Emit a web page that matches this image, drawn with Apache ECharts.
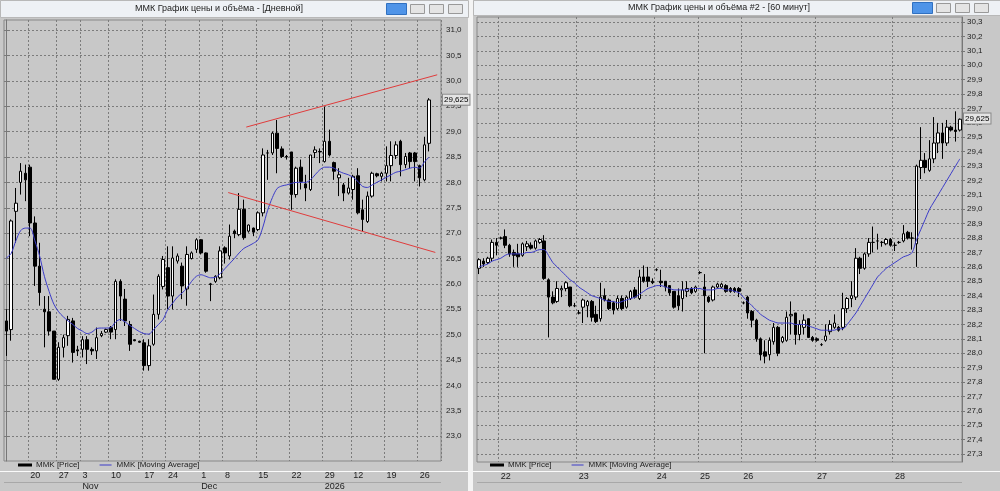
<!DOCTYPE html>
<html><head><meta charset="utf-8">
<script src="https://cdn.jsdelivr.net/npm/echarts@6/dist/echarts.min.js"></script>
<style>html,body{margin:0;padding:0;background:#f0f0f0}#c{width:1000px;height:491px}</style>
</head><body><div id="c"></div>
<script>
// ---- Left panel (daily) ----
const leftCandles = [ // [open, close, low, high]
[25.27,25.07,24.58,25.50],[25.10,27.24,24.88,27.27],[27.43,27.59,26.81,27.89],[28.00,28.22,27.76,28.38],[28.18,28.05,27.63,28.35],
[28.30,27.20,26.94,28.35],[27.20,26.35,25.96,27.33],[26.35,25.83,25.57,26.81],[25.50,25.45,24.75,25.76],[25.45,25.07,24.98,25.76],
[25.07,24.12,24.12,25.07],[24.12,24.75,24.09,24.85],[24.75,24.94,24.55,25.00],[24.98,25.30,24.78,25.37],[25.27,24.65,24.45,25.33],
[24.70,24.68,24.58,24.78],[24.71,24.90,24.55,24.97],[24.90,24.71,24.42,24.97],[24.71,24.68,24.60,24.75],[24.68,24.94,24.52,25.14],
[24.98,25.02,24.95,25.07],[25.05,25.10,25.03,25.12],[25.14,25.05,24.91,25.17],[25.10,26.05,24.91,26.09],[26.05,25.76,25.27,26.09],
[25.70,25.27,25.17,25.90],[25.20,24.81,24.68,25.27],[24.90,24.88,24.87,24.91],[24.87,24.85,24.84,24.88],[24.84,24.39,24.29,24.91],
[24.39,24.78,24.29,24.91],[24.81,25.40,24.78,25.79],[25.40,26.15,25.30,26.19],[25.95,26.48,25.89,26.55],[26.32,25.76,25.50,26.74],
[25.76,26.51,25.50,26.74],[26.45,26.55,26.40,26.60],[26.35,25.96,25.70,26.42],[25.90,26.58,25.57,26.74],[26.50,26.61,26.48,26.64],
[26.68,26.87,26.61,26.90],[26.87,26.61,26.58,26.88],[26.61,26.25,26.22,26.62],[26.00,25.99,25.66,26.02],[26.05,26.15,26.02,26.17],
[26.12,26.65,26.09,26.74],[26.71,26.61,26.40,26.74],[26.55,26.94,26.48,27.17],[27.04,26.99,26.90,27.07],[26.97,27.47,26.94,27.79],
[27.47,26.91,26.87,27.66],[27.04,27.16,27.01,27.17],[27.10,27.02,26.94,27.11],[27.07,27.40,27.04,27.43],[27.40,28.54,27.33,28.67],
[28.58,28.58,28.05,28.64],[28.58,28.97,28.54,29.00],[28.97,28.67,28.18,29.23],[28.66,28.51,28.48,28.71],[28.51,28.50,28.45,28.54],
[28.60,27.76,27.46,28.60],[27.76,28.28,27.70,28.31],[28.30,28.02,27.86,28.45],[27.97,27.89,27.63,28.15],[27.86,28.54,27.83,28.54],
[28.59,28.64,28.48,28.71],[28.61,28.60,28.38,28.67],[28.41,28.81,28.39,29.49],[28.81,28.54,28.51,29.04],[28.39,28.22,28.05,28.41],
[28.09,28.15,27.73,28.28],[27.95,27.79,27.63,27.99],[27.79,27.89,27.76,28.09],[27.86,28.12,27.66,28.15],[28.13,27.40,27.37,28.28],
[27.46,27.27,27.04,27.66],[27.23,27.73,27.20,27.82],[27.73,28.18,27.70,28.21],[28.17,28.13,28.10,28.19],[28.12,28.18,28.02,28.21],
[28.18,28.33,28.02,28.71],[28.33,28.53,28.02,28.81],[28.53,28.74,28.46,28.81],[28.81,28.35,28.12,28.84],[28.35,28.51,28.28,28.58],
[28.58,28.41,28.28,28.60],[28.58,28.41,28.02,28.60],[28.33,28.09,27.92,28.35],[28.05,28.74,28.02,28.90],[28.77,29.625,28.61,29.66]];
const leftMA = [26.51,26.60,26.85,27.05,27.10,27.10,26.85,26.55,26.15,25.85,
25.60,25.45,25.35,25.27,25.20,25.12,25.07,25.02,25.05,25.12,
25.13,25.13,25.14,25.25,25.30,25.25,25.18,25.12,25.06,25.02,
25.01,25.10,25.20,25.30,25.50,25.62,25.74,25.82,25.92,26.05,
26.15,26.18,26.15,26.12,26.13,26.20,26.30,26.40,26.50,26.61,
26.70,26.75,26.80,26.87,27.12,27.45,27.70,27.88,27.93,27.95,
27.98,28.00,28.00,28.00,28.05,28.15,28.25,28.30,28.30,28.28,
28.22,28.18,28.15,28.10,28.02,27.92,27.90,27.95,28.00,28.05,
28.10,28.15,28.20,28.22,28.25,28.28,28.30,28.28,28.40,28.50];
const leftSlots = 92;
const leftDayIdx = [5,11,16,22,29,34,41,46,53,60,67,73,80,87];
const leftDayLabels = ['20','27','3','10','17','24','1','8','15','22','29','12','19','26'];
const leftMonthIdx = [16,41,67];
const leftMonthLabels = ['Nov','Dec','2026'];
const leftYTicks = [23.0,23.5,24.0,24.5,25.0,25.5,26.0,26.5,27.0,27.5,28.0,28.5,29.0,29.5,30.0,30.5,31.0];
const upperTrend = [[50.5,29.09],[90.7,30.12]];
const lowerTrend = [[46.7,27.80],[90.3,26.62]];
const lastPrice = 29.625;

// ---- Right panel (60 min) ----
const rightCandles = [
[28.59,28.65,28.55,28.66],[28.64,28.62,28.60,28.66],[28.63,28.66,28.62,28.67],[28.66,28.77,28.64,28.79],[28.77,28.75,28.68,28.80],
[28.80,28.80,28.79,28.81],[28.81,28.75,28.73,28.86],[28.75,28.69,28.67,28.76],[28.70,28.68,28.60,28.72],[28.69,28.67,28.60,28.76],
[28.68,28.76,28.67,28.77],[28.74,28.76,28.71,28.78],[28.75,28.73,28.72,28.77],[28.73,28.78,28.72,28.79],[28.77,28.79,28.76,28.80],
[28.78,28.52,28.51,28.82],[28.51,28.39,28.11,28.52],[28.39,28.35,28.34,28.43],[28.36,28.45,28.35,28.50],[28.44,28.45,28.39,28.47],
[28.45,28.49,28.43,28.50],[28.46,28.33,28.32,28.46],[28.33,28.33,28.32,28.35],[28.28,28.28,28.27,28.30],[28.32,28.37,28.21,28.38],
[28.33,28.36,28.25,28.37],[28.36,28.25,28.22,28.37],[28.27,28.22,28.21,28.33],[28.24,28.39,28.22,28.49],[28.40,28.37,28.36,28.45],
[28.37,28.31,28.30,28.38],[28.35,28.30,28.27,28.36],[28.31,28.38,28.30,28.40],[28.38,28.31,28.30,28.40],[28.32,28.39,28.31,28.40],
[28.38,28.43,28.37,28.44],[28.44,28.39,28.38,28.46],[28.38,28.53,28.37,28.58],[28.53,28.50,28.49,28.61],[28.53,28.50,28.46,28.60],
[28.50,28.49,28.48,28.52],[28.58,28.58,28.57,28.59],[28.50,28.49,28.46,28.58],[28.50,28.46,28.43,28.50],[28.47,28.42,28.40,28.47],
[28.43,28.32,28.31,28.43],[28.40,28.33,28.30,28.45],[28.38,28.44,28.29,28.50],[28.43,28.45,28.39,28.50],[28.45,28.42,28.41,28.46],
[28.43,28.46,28.42,28.47],[28.56,28.56,28.55,28.57],[28.46,28.40,28.00,28.55],[28.39,28.36,28.35,28.40],[28.37,28.46,28.36,28.47],
[28.46,28.48,28.45,28.49],[28.46,28.48,28.45,28.49],[28.47,28.43,28.42,28.48],[28.45,28.43,28.42,28.46],[28.45,28.43,28.42,28.46],
[28.45,28.43,28.39,28.46],[28.35,28.35,28.34,28.36],[28.39,28.28,28.24,28.40],[28.29,28.23,28.18,28.30],[28.23,28.10,28.08,28.24],
[28.10,27.99,27.95,28.11],[28.01,27.98,27.93,28.09],[27.99,28.09,27.95,28.11],[28.08,28.18,28.06,28.21],[28.18,28.00,27.98,28.19],
[28.08,28.11,28.07,28.12],[28.09,28.25,28.08,28.29],[28.26,28.27,28.13,28.36],[28.28,28.13,28.06,28.28],[28.13,28.20,28.09,28.23],
[28.18,28.23,28.13,28.27],[28.24,28.11,28.11,28.24],[28.11,28.09,28.08,28.12],[28.10,28.09,28.08,28.11],[28.06,28.06,28.05,28.07],
[28.09,28.12,28.08,28.20],[28.15,28.20,28.13,28.23],[28.18,28.21,28.17,28.27],[28.18,28.16,28.15,28.19],[28.18,28.31,28.16,28.42],
[28.31,28.38,28.28,28.39],[28.38,28.40,28.32,28.50],[28.39,28.66,28.37,28.73],[28.66,28.59,28.55,28.67],[28.59,28.69,28.58,28.70],
[28.69,28.77,28.67,28.80],[28.77,28.77,28.70,28.88],[28.78,28.78,28.72,28.83],[28.77,28.77,28.74,28.78],[28.76,28.79,28.75,28.80],
[28.79,28.75,28.74,28.80],[28.75,28.75,28.71,28.77],[28.77,28.77,28.76,28.78],[28.78,28.83,28.77,28.89],[28.84,28.80,28.79,28.85],
[28.80,28.80,28.72,28.84],[28.76,29.30,28.60,29.31],[29.29,29.34,29.21,29.57],[29.34,29.29,29.25,29.39],[29.27,29.35,29.26,29.48],
[29.35,29.46,29.32,29.64],[29.46,29.53,29.39,29.60],[29.53,29.46,29.35,29.60],[29.46,29.57,29.44,29.62],[29.57,29.55,29.54,29.58],
[29.55,29.54,29.47,29.68],[29.55,29.625,29.54,29.63]];
const rightMA = [28.60,28.61,28.62,28.64,28.65,28.66,28.68,28.69,28.69,28.69,
28.69,28.70,28.70,28.71,28.72,28.72,
28.68,28.63,28.60,28.57,28.54,28.51,28.49,28.46,28.44,28.42,28.40,28.39,28.38,
28.37,28.36,28.36,28.35,28.36,28.37,28.38,28.39,28.41,28.43,28.45,28.46,28.47,28.47,28.46,28.45,28.44,28.44,28.44,28.44,28.45,28.45,28.45,28.44,28.44,28.44,28.45,28.45,
28.44,28.44,28.43,28.42,28.39,28.36,28.33,28.30,28.27,28.25,28.23,28.22,28.21,28.21,28.21,28.21,28.20,28.20,28.20,28.19,28.18,28.17,28.16,28.16,28.16,28.16,28.17,28.17,
28.20,28.24,28.28,28.33,28.38,28.43,28.48,28.53,28.56,28.59,28.61,28.63,28.65,28.67,28.68,28.70,28.79,28.86,28.93,29.00,29.05,29.10,29.15,29.20,29.25,29.30,29.35];
const rightSlots = 112;
const rightDayIdx = [5,23,41,51,61,78,96];
const rightDayLabels = ['22','23','24','25','26','27','28'];
const rightYTicks = [27.3,27.4,27.5,27.6,27.7,27.8,27.9,28.0,28.1,28.2,28.3,28.4,28.5,28.6,28.7,28.8,28.9,29.0,29.1,29.2,29.3,29.4,29.5,29.6,29.7,29.8,29.9,30.0,30.1,30.2,30.3];

const titles = ['ММК График цены и объёма - [Дневной]','ММК График цены и объёма #2 - [60 минут]'];
const legendNames = ['MMK [Price]','MMK [Moving Average]'];

// ---- build ----
const FONT = 'Liberation Sans';
const cats = n => Array.from({length:n},(_,i)=>String(i));
const fmt = v => v.toFixed(1).replace('.',',');
function dayAxis(grid, n, idx, labels, margin, showSplit){
  const map = {}; idx.forEach((k,j)=>map[k]=labels[j]);
  return {type:'category', gridIndex:grid, position:'bottom', data:cats(n), boundaryGap:true,
    axisLine:{show:false}, axisTick:{show:false},
    axisLabel:{interval:(i)=>map[i]!==undefined, formatter:(v)=>map[+v]||'', align:'left', margin:margin, fontSize:9, fontFamily:FONT, color:'#222'},
    splitLine:{show:showSplit, interval:(i)=>map[i]!==undefined, lineStyle:{color:'#7c7c7c', type:[2,2], width:1}}};
}
function yAx(grid, min, max, ticks){
  return {type:'value', gridIndex:grid, position:'right', min:min, max:max, scale:true,
    axisLine:{show:true, lineStyle:{color:'#777'}}, axisTick:{show:true, length:3, customValues:ticks, lineStyle:{color:'#777'}},
    axisLabel:{customValues:ticks, formatter:fmt, fontSize:8, fontFamily:FONT, color:'#222', margin:5},
    splitLine:{show:true, lineStyle:{color:'#7c7c7c', type:[2,2], width:1}}};
}
const candleStyle = {color:'#ffffff', color0:'#000000', borderColor:'#000000', borderColor0:'#000000', borderWidth:1};
const lastMark = {symbol:['none','none'], silent:true, data:[{yAxis:lastPrice}], lineStyle:{color:'rgba(0,0,0,0)', width:1, type:'solid'},
  label:{show:true, position:'end', formatter:'29,625', fontSize:8, fontFamily:FONT, color:'#000', backgroundColor:'#e4e4e4', borderColor:'#888', borderWidth:1, padding:[1,1], distance:2}};

const option = {
  animation:false, backgroundColor:'#c8c8c8',
  grid:[{left:4, right:559, top:20, bottom:29, show:true, borderColor:'#888', borderWidth:1, backgroundColor:'#c8c8c8'},
        {left:477, right:38, top:17, bottom:29, show:true, borderColor:'#888', borderWidth:1, backgroundColor:'#c8c8c8'}],
  xAxis:[
    dayAxis(0, leftSlots, leftDayIdx, leftDayLabels, 10, true),
    dayAxis(1, rightSlots, rightDayIdx, rightDayLabels, 10, true),
    {type:'value', gridIndex:0, position:'bottom', min:-0.5, max:leftSlots-0.5, show:false},
    dayAxis(0, leftSlots, leftMonthIdx, leftMonthLabels, 21, false)
  ],
  yAxis:[yAx(0, 22.51, 31.2, leftYTicks), yAx(1, 27.245, 30.335, rightYTicks), {type:'value', gridIndex:0, position:'right', min:22.51, max:31.2, show:false}],
  legend:[
    {left:18, top:461, itemWidth:12, itemHeight:1, itemGap:20, padding:0, textStyle:{fontSize:8, fontFamily:FONT, color:'#222'},
     data:[{name:legendNames[0], icon:'rect', itemStyle:{color:'#000'}},{name:legendNames[1], icon:'rect', itemStyle:{color:'#3c3cc8'}}]},
    {left:490, top:461, itemWidth:12, itemHeight:1, itemGap:20, padding:0, textStyle:{fontSize:8, fontFamily:FONT, color:'#222'},
     data:[{name:legendNames[0], icon:'rect', itemStyle:{color:'#000'}},{name:legendNames[1], icon:'rect', itemStyle:{color:'#3c3cc8'}}]}
  ],
  series:[
    {name:legendNames[0], type:'candlestick', xAxisIndex:0, yAxisIndex:0, data:leftCandles, barWidth:3, itemStyle:candleStyle},
    {name:legendNames[1], type:'line', xAxisIndex:0, yAxisIndex:0, data:leftMA, symbol:'none', smooth:0.3, lineStyle:{color:'#3c3cc8', width:1}, markLine:lastMark},
    {name:'upper', type:'line', xAxisIndex:2, yAxisIndex:2, data:upperTrend, symbol:'none', lineStyle:{color:'#e03c3c', width:1}},
    {name:'lower', type:'line', xAxisIndex:2, yAxisIndex:2, data:lowerTrend, symbol:'none', lineStyle:{color:'#e03c3c', width:1}},
    {name:legendNames[0], type:'candlestick', xAxisIndex:1, yAxisIndex:1, data:rightCandles, barWidth:3, itemStyle:candleStyle},
    {name:legendNames[1], type:'line', xAxisIndex:1, yAxisIndex:1, data:rightMA, symbol:'none', smooth:0.3, lineStyle:{color:'#3c3cc8', width:1}, markLine:lastMark}
  ],
  graphic:[
    {type:'rect', left:468, top:0, shape:{width:5, height:491}, style:{fill:'#f4f4f4'}, z:-1},
    {type:'rect', left:0, top:0, shape:{width:468, height:17}, style:{fill:'#eef1f5', stroke:'#b8b8b8'}},
    {type:'rect', left:473, top:0, shape:{width:527, height:15}, style:{fill:'#eef1f5', stroke:'#b8b8b8'}},
    {type:'text', left:135, top:4, style:{text:titles[0], fontSize:9, fontFamily:FONT, fill:'#222'}},
    {type:'text', left:628, top:3, style:{text:titles[1], fontSize:9, fontFamily:FONT, fill:'#222'}},
    {type:'rect', left:386, top:3, shape:{width:20, height:11}, style:{fill:'#4f94e8', stroke:'#3070c0'}},
    {type:'rect', left:410, top:4, shape:{width:14, height:9}, style:{fill:'#e4e4e4', stroke:'#999'}},
    {type:'rect', left:429, top:4, shape:{width:14, height:9}, style:{fill:'#e4e4e4', stroke:'#999'}},
    {type:'rect', left:448, top:4, shape:{width:14, height:9}, style:{fill:'#e4e4e4', stroke:'#999'}},
    {type:'rect', left:912, top:2, shape:{width:20, height:11}, style:{fill:'#4f94e8', stroke:'#3070c0'}},
    {type:'rect', left:936, top:3, shape:{width:14, height:9}, style:{fill:'#e4e4e4', stroke:'#999'}},
    {type:'rect', left:955, top:3, shape:{width:14, height:9}, style:{fill:'#e4e4e4', stroke:'#999'}},
    {type:'rect', left:974, top:3, shape:{width:14, height:9}, style:{fill:'#e4e4e4', stroke:'#999'}},
    {type:'rect', left:0, top:471, shape:{width:468, height:1}, style:{fill:'#fafafa'}},
    {type:'rect', left:473, top:471, shape:{width:527, height:1}, style:{fill:'#fafafa'}},
    {type:'rect', left:4, top:482, shape:{width:437, height:1}, style:{fill:'#a8a8a8'}},
    {type:'rect', left:477, top:482, shape:{width:485, height:1}, style:{fill:'#a8a8a8'}}
  ]
};
const chart = echarts.init(document.getElementById('c'));
chart.setOption(option);
</script></body></html>
